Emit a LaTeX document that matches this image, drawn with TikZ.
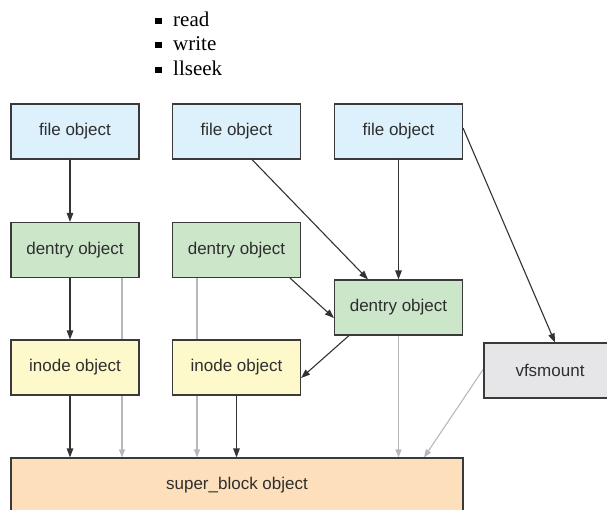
\documentclass[tikz,border=0pt]{standalone}
\usepackage{fontspec}
\setmainfont{Liberation Serif}
\newfontfamily\labelfont{Liberation Sans}
\usetikzlibrary{arrows.meta,backgrounds,calc}

\definecolor{boxline}{HTML}{3A3A3A}
\definecolor{labeltext}{HTML}{2E2E2E}
\definecolor{filefill}{HTML}{DDF1FC}
\definecolor{dentryfill}{HTML}{CCE6CA}
\definecolor{inodefill}{HTML}{FEF9CB}
\definecolor{mountfill}{HTML}{E6E6E9}
\definecolor{sbfill}{HTML}{FEDFBC}
\definecolor{refline}{HTML}{B8B8B8}
\definecolor{ptrline}{HTML}{333333}

\begin{document}
\begin{tikzpicture}[x=1pt,y=-1pt,
  box/.style={draw=boxline, line width=1.1pt, minimum width=128pt,
    minimum height=55pt, inner sep=0pt,
    font=\labelfont\fontsize{17}{19}\selectfont, text=labeltext},
  filebox/.style={box, fill=filefill},
  dentrybox/.style={box, fill=dentryfill},
  inodebox/.style={box, fill=inodefill},
  mountbox/.style={box, fill=mountfill, minimum width=132pt},
  sbbox/.style={box, fill=sbfill, minimum width=452pt},
  ptr/.style={draw=ptrline, line width=1.1pt, -{Triangle[length=9pt,width=6.5pt]}},
  ref/.style={draw=refline, line width=1.1pt, -{Triangle[length=8pt,width=6pt]}},
  bulletbox/.style={fill=black, minimum size=6.5pt, inner sep=0pt},
  item/.style={anchor=base west, inner sep=0pt,
    font=\fontsize{21}{24}\selectfont},
]
\useasboundingbox (0,0) rectangle (607,509);

% operation list
\node[bulletbox] (b1) at (158.5,21) {};
\node[bulletbox] (b2) at (158.5,45) {};
\node[bulletbox] (b3) at (158.5,70) {};
\node[item] (op1) at (173,26) {read};
\node[item] (op2) at (173,50) {write};
\node[item] (op3) at (173,75) {llseek};

% objects
\node[filebox] (file1) at (75,131.5) {file object};
\node[filebox] (file2) at (236.5,131.5) {file object};
\node[filebox] (file3) at (398.5,131.5) {file object};
\node[dentrybox] (dentry1) at (75,250) {dentry object};
\node[dentrybox] (dentry2) at (236.5,250) {dentry object};
\node[dentrybox] (dentry3) at (398.5,307.5) {dentry object};
\node[inodebox] (inode1) at (75,367.5) {inode object};
\node[inodebox] (inode2) at (236.5,367.5) {inode object};
\node[mountbox] (mnt) at (550,370.5) {vfsmount};
\node[sbbox] (sb) at (237,485.5) {super\_block object};

% superblock references run behind the boxes
\begin{pgfonlayer}{background}
  \coordinate (g1) at ([xshift=47pt]dentry1.south);
  \coordinate (g2) at ([xshift=-39.5pt]dentry2.south);
  \coordinate (g4) at ([yshift=1.5pt]mnt.west);
  \coordinate (g4end) at ([xshift=187pt]sb.north);
  \draw[ref] (g1) -- (g1 |- sb.north);
  \draw[ref] (g2) -- (g2 |- sb.north);
  \draw[ref] (dentry3.south) -- (dentry3.south |- sb.north);
  \draw[ref] (g4) -- (g4end);
\end{pgfonlayer}

% pointers between objects
\coordinate (p1) at ([xshift=-5pt]file1.south);
\coordinate (p2) at ([xshift=-5pt]dentry1.south);
\coordinate (p3) at ([xshift=-5pt]inode1.south);
\draw[ptr] (p1) -- (p1 |- dentry1.north);
\draw[ptr] (p2) -- (p2 |- inode1.north);
\draw[ptr] (p3) -- (p3 |- sb.north);
\draw[ptr] ([xshift=15.5pt]file2.south) -- ([xshift=-30.5pt]dentry3.north);
\draw[ptr] (file3.south) -- (dentry3.north);
\draw[ptr] ([yshift=3.5pt]file3.east) -- ([xshift=5pt]mnt.north);
\draw[ptr] ([xshift=53.5pt]dentry2.south) -- ([yshift=-10.5pt]dentry3.west);
\draw[ptr] ([xshift=-49.5pt]dentry3.south) -- ([yshift=-10.5pt]inode2.east);
\draw[ptr] (inode2.south) -- (inode2.south |- sb.north);
\end{tikzpicture}
\end{document}
